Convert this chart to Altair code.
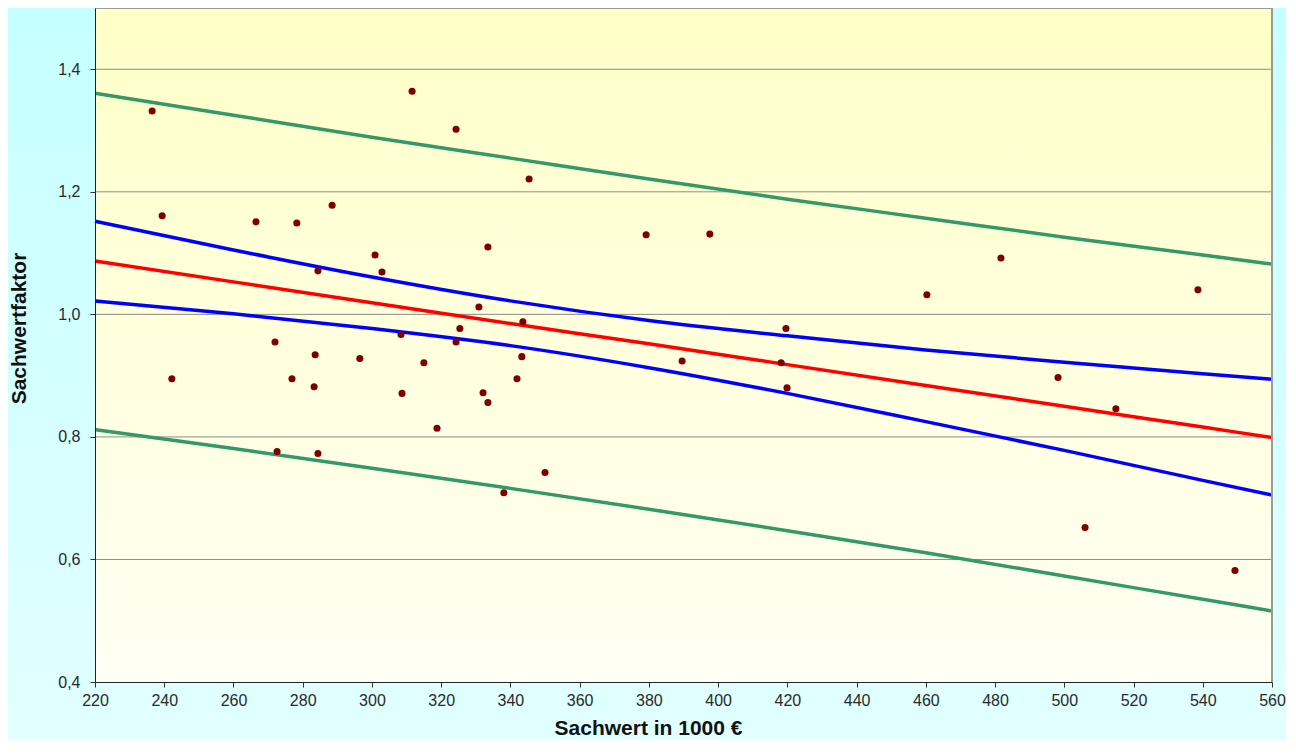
import altair as alt
import pandas as pd

# ---- data ----
sachwert = [236.5, 239.4, 242.2, 266.5, 272.0, 272.6, 276.9, 278.3, 283.3, 283.6,
            284.4, 284.4, 288.5, 296.5, 300.9, 302.9, 308.4, 308.7, 311.6, 315.0,
            318.8, 324.3, 324.3, 325.4, 330.9, 332.1, 333.5, 333.5, 338.1, 341.9,
            343.6, 343.3, 345.4, 350.0, 379.2, 389.6, 397.6, 418.2, 419.6, 419.9,
            460.3, 481.7, 498.2, 506.0, 514.9, 538.6, 549.3]
faktor = [1.332, 1.161, 0.895, 1.151, 0.955, 0.776, 0.895, 1.149, 0.882, 0.934,
          1.071, 0.773, 1.178, 0.928, 1.097, 1.069, 0.967, 0.871, 1.364, 0.921,
          0.814, 1.302, 0.955, 0.977, 1.012, 0.872, 1.110, 0.856, 0.709, 0.895,
          0.988, 0.931, 1.221, 0.742, 1.130, 0.924, 1.131, 0.921, 0.977, 0.880,
          1.032, 1.092, 0.897, 0.652, 0.846, 1.040, 0.582]

band_x = [220, 260, 300, 340, 380, 420, 460, 500, 540, 560]
green_upper = [1.361, 1.325, 1.289, 1.255, 1.221, 1.188, 1.157, 1.126, 1.097, 1.082]
blue_upper = [1.152, 1.105, 1.061, 1.022, 0.990, 0.965, 0.942, 0.922, 0.903, 0.894]
red_fit = [1.087, 1.053, 1.019, 0.985, 0.952, 0.918, 0.884, 0.850, 0.816, 0.799]
blue_lower = [1.022, 1.001, 0.977, 0.949, 0.913, 0.871, 0.825, 0.778, 0.729, 0.705]
green_lower = [0.812, 0.781, 0.749, 0.716, 0.682, 0.647, 0.611, 0.573, 0.535, 0.516]

x_ticks = list(range(220, 561, 20))
y_ticks = [0.4, 0.6, 0.8, 1.0, 1.2, 1.4]
grid_vals = [0.6, 0.8, 1.0, 1.2, 1.4]

series_names = ["green_up", "blue_up", "red", "blue_lo", "green_lo"]
series_colors = ["#339966", "#0000ff", "#ff0000", "#0000ff", "#339966"]

# ---- layout ----
W, H = 1177, 674
PL, PR, PT, PB = 87, 14, 0, 58

points_df = pd.DataFrame({"x": sachwert, "y": faktor})
rows = []
for name, ys_ in zip(series_names, [green_upper, blue_upper, red_fit, blue_lower, green_lower]):
    for xv, yv in zip(band_x, ys_):
        rows.append({"x": xv, "y": yv, "s": name})
lines_df = pd.DataFrame(rows)
grid_df = pd.DataFrame({"y": grid_vals})
one = pd.DataFrame({"a": [0]})

xs = alt.Scale(domain=[220, 560], nice=False, zero=False)
ys = alt.Scale(domain=[0.4, 1.5], nice=False, zero=False)

outer_bg = alt.Chart(one).mark_rect(
    fill=alt.Gradient(gradient="linear", x1=0, x2=0, y1=0, y2=1,
                      stops=[alt.GradientStop(color="#c6ffff", offset=0),
                             alt.GradientStop(color="#e2ffff", offset=1)])
).encode(x=alt.value(-PL), x2=alt.value(W + PR), y=alt.value(-PT), y2=alt.value(H + PB))

plot_bg = alt.Chart(one).mark_rect(
    fill=alt.Gradient(gradient="linear", x1=0, x2=0, y1=0, y2=1,
                      stops=[alt.GradientStop(color="#ffffc8", offset=0),
                             alt.GradientStop(color="#fffff4", offset=1)])
).encode(x=alt.value(0), x2=alt.value(W), y=alt.value(0), y2=alt.value(H))

grid = alt.Chart(grid_df).mark_rule(color="#8c8c8c", strokeWidth=1).encode(
    y=alt.Y("y:Q", scale=ys)
)

top_border = alt.Chart(one).mark_rule(color="#9a9a9a", strokeWidth=2).encode(
    x=alt.value(0), x2=alt.value(W), y=alt.value(0)
)
right_border = alt.Chart(one).mark_rule(color="#9a9a9a", strokeWidth=2).encode(
    x=alt.value(W), y=alt.value(0), y2=alt.value(H)
)

lines = alt.Chart(lines_df).mark_line(strokeWidth=3.5, interpolate="monotone").encode(
    x=alt.X("x:Q", scale=xs),
    y=alt.Y("y:Q", scale=ys),
    color=alt.Color("s:N", scale=alt.Scale(domain=series_names, range=series_colors), legend=None),
    detail="s:N",
)

points = alt.Chart(points_df).mark_circle(color="#800000", size=50, opacity=1).encode(
    x=alt.X("x:Q", scale=xs, title="Sachwert in 1000 €",
            axis=alt.Axis(values=x_ticks, titleX=553, titleY=52, titleBaseline="alphabetic",
                          labelPadding=5, labelFlush=False, zindex=2)),
    y=alt.Y("y:Q", scale=ys, title="Sachwertfaktor",
            axis=alt.Axis(values=y_ticks, labelExpr="replace(format(datum.value, '.1f'), '.', ',')",
                          titleX=-76, titleY=320, titleAngle=270, titleBaseline="middle",
                          labelPadding=10, labelFlush=False, zindex=2)),
)

chart = alt.layer(outer_bg, plot_bg, grid, lines, points, top_border, right_border).properties(
    width=W, height=H,
    autosize=alt.AutoSizeParams(type="none"),
    padding={"left": PL, "right": PR, "top": PT, "bottom": PB},
    background="#d4ffff",
).configure_view(stroke="transparent").configure_axis(
    grid=False,
    labelFont="Liberation Sans", labelFontSize=16, labelColor="#2a2a2a",
    titleFont="Liberation Sans", titleFontSize=21, titleFontWeight="bold", titleColor="#111111",
    domainColor="#222222", domainWidth=1, tickColor="#333333", tickSize=5, tickWidth=1,
)

chart.save("out.html", embed_options={"renderer": "svg", "actions": False})
